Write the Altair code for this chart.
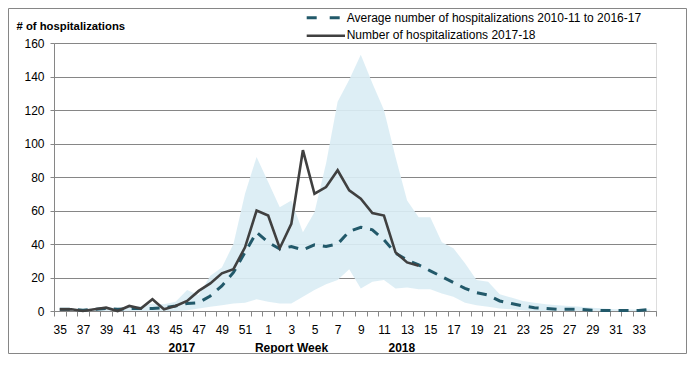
import json
import altair as alt
import pandas as pd

# ---- data ----
weeks = [str(w) for w in list(range(35, 53)) + list(range(1, 35))]

avg_values = [1, 1, 0.5, 1, 1.5, 1, 1.5, 1.5, 1.5, 2, 3, 4.5, 5, 9, 15, 23, 35, 47,
              41, 37, 38.5, 36.5, 39.5, 38.5, 40, 47.5, 50, 48.5, 42.5, 34.5, 30.5, 27.5,
              24, 20.5, 17, 13.5, 11, 9.5, 6, 4.5, 3, 2, 1.5, 1, 1, 1, 0.5, 0.3, 0.2, 0.3, 0.3, 1]

cur_values = [1, 1, 0, 1, 2, 0, 3, 1.5, 7, 1, 3, 6, 12, 16.5, 22.5, 25, 38, 60,
              57, 37.5, 52, 96, 70, 74, 84, 72, 67, 58.5, 57, 35, 29, 27] + [None] * 20

range_low = [0] * 11 + [0.5, 1.5, 2.5, 3.5, 4.5, 5, 7,
             5.5, 4.5, 4.5, 8.5, 12.5, 16, 18.5, 25, 13.5, 17.5, 18.5, 13.5, 14, 13,
             13, 10.5, 8.5, 5, 3.5, 2.5, 1.5, 1, 0.5] + [0] * 11

range_high = [1.5, 1.5, 1, 1.5, 2.5, 1.5, 2.5, 3, 4.5, 4, 5.5, 12.5, 9.5, 21, 26, 40, 70, 92,
              77, 62, 66, 47, 59, 88, 125, 138, 153, 136, 120, 92, 66, 56,
              56, 41, 37.5, 28.5, 18.5, 17.5, 10, 8, 6, 5, 4, 3.5, 3, 2.5, 2, 1.5, 1, 1, 0.8, 1]

tick_labels = [w for w in weeks if int(w) % 2 == 1]
y_ticks = list(range(0, 161, 20))

legend_avg = "Average number of hospitalizations 2010-11 to 2016-17"
legend_cur = "Number of hospitalizations 2017-18"
year_labels = ["2017", "Report Week", "2018"]
y_title = "# of hospitalizations"

df = pd.DataFrame({
    "week": weeks,
    "pos": [i + 0.5 for i in range(len(weeks))],
    "avg": avg_values,
    "cur": cur_values,
    "low": range_low,
    "high": range_high,
})

FONT = "Liberation Sans"
GRID = "#868686"
W, H = 602, 268

xscale = alt.Scale(domain=[0, len(weeks)], nice=False, zero=False)
yscale = alt.Scale(domain=[0, 160], nice=False)

y_axis = alt.Axis(values=y_ticks, grid=True, gridColor=GRID, gridWidth=1,
                  domain=True, domainColor=GRID, ticks=True, tickSize=4, tickColor=GRID,
                  labelFont=FONT, labelFontSize=12, labelColor="#000", labelPadding=6,
                  title=y_title, titleAngle=0, titleX=-38, titleY=-17, titleAlign="left",
                  titleBaseline="middle", titleFont=FONT, titleFontSize=11.3,
                  titleFontWeight="bold", titleColor="#000")

x_tick_axis = alt.Axis(values=list(range(len(weeks) + 1)), labels=False, ticks=True,
                       tickSize=5, tickColor=GRID, domain=True, domainColor=GRID,
                       grid=False, title=None, orient="bottom")

label_pos = [i + 0.5 for i, w in enumerate(weeks) if w in tick_labels]
x_label_axis = alt.Axis(values=label_pos, labelExpr=f"{json.dumps(weeks)}[floor(datum.value)]",
                        ticks=False, domain=False, grid=False, title=None, orient="bottom",
                        labelFont=FONT, labelFontSize=12, labelColor="#000",
                        labelBaseline="middle", labelPadding=18, labelAngle=0,
                        labelOverlap=False)

base = alt.Chart(df)

band = base.mark_area(color="#DAEDF4", opacity=0.92).encode(
    x=alt.X("pos:Q", scale=xscale, axis=x_tick_axis),
    y=alt.Y("low:Q", scale=yscale, axis=y_axis),
    y2="high:Q",
)

avg_line = base.mark_line(color="#22596A", strokeWidth=3, strokeDash=[10, 8]).encode(
    x=alt.X("pos:Q", scale=xscale, axis=x_label_axis),
    y=alt.Y("avg:Q", scale=yscale, axis=y_axis),
)

cur_line = base.mark_line(color="#404040", strokeWidth=2.6).encode(
    x=alt.X("pos:Q", scale=xscale, axis=None),
    y=alt.Y("cur:Q", scale=yscale, axis=y_axis),
)

# legend (drawn by hand, Excel style)
leg_dash = alt.Chart(pd.DataFrame({"a": [0]})).mark_rule(
    color="#22596A", strokeWidth=3, strokeDash=[10, 13]).encode(
    x=alt.value(252.7), x2=alt.value(286), y=alt.value(-25.3))
leg_solid = alt.Chart(pd.DataFrame({"a": [0]})).mark_rule(
    color="#404040", strokeWidth=2.6).encode(
    x=alt.value(252.7), x2=alt.value(291), y=alt.value(-7.3))
leg_text = alt.Chart(pd.DataFrame({"t": [legend_avg, legend_cur], "yy": [-25, -8]})).mark_text(
    align="left", baseline="middle", font=FONT, fontSize=12, color="#000").encode(
    x=alt.value(292.7), y=alt.YValue("yy") if False else alt.Y("yy:Q", scale=None), text="t:N")

# year annotations under the axis
ann = alt.Chart(pd.DataFrame({"t": year_labels, "xx": [127.8, 237.5, 347.8]})).mark_text(
    align="center", baseline="middle", font=FONT, fontSize=12, fontWeight="bold", color="#000").encode(
    x=alt.X("xx:Q", scale=None), y=alt.value(304.5), text="t:N")

frame = alt.Chart(pd.DataFrame({"a": [0]})).mark_rect(
    fillOpacity=0, stroke=GRID, strokeWidth=1).encode(
    x=alt.value(-45.5), x2=alt.value(632.5), y=alt.value(-34.5), y2=alt.value(310.5))

chart = alt.layer(band, avg_line, cur_line, leg_dash, leg_solid, leg_text, ann, frame).resolve_axis(
    x="independent"
).properties(
    width=W, height=H,
    autosize=alt.AutoSizeParams(type="none"),
    padding={"left": 46, "top": 35, "right": 31, "bottom": 43},
).configure_view(stroke=None).configure(background="white")

chart.save("out.html", embed_options={"renderer": "svg", "actions": False})
